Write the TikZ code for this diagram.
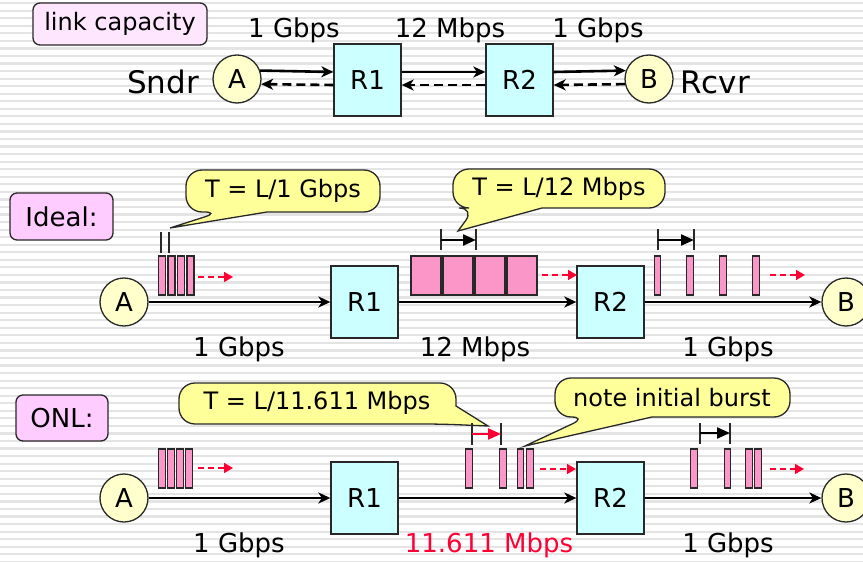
\documentclass[tikz,border=0pt]{standalone}
\usepackage{fontspec}
\setmainfont{DejaVu Sans}
\usetikzlibrary{arrows.meta,calc}
\definecolor{pk}{RGB}{250,150,200}
\definecolor{cy}{RGB}{204,255,255}
\definecolor{yl}{RGB}{255,255,204}
\definecolor{cl}{RGB}{255,255,153}
\definecolor{lab}{RGB}{255,204,255}
\definecolor{labtwo}{RGB}{255,230,255}
\definecolor{rd}{RGB}{255,0,51}
\definecolor{bd}{RGB}{40,40,40}
\definecolor{stripe}{RGB}{228,228,228}
\begin{document}
\begin{tikzpicture}[x=1pt,y=-1pt,
 every node/.style={font=\fontsize{26}{30}\selectfont, inner sep=0pt},
 circ/.style={circle, draw=bd, line width=1.3pt, fill=yl, minimum size=48pt},
 rbox/.style={rectangle, draw=bd, line width=1.3pt, fill=cy, minimum width=67pt, minimum height=72pt},
 labbox/.style={rectangle, rounded corners=7pt, draw=bd, line width=1.3pt, fill=lab},
 pkt/.style={rectangle, draw=bd, line width=1.1pt, fill=pk, minimum height=39pt},
 link/.style={line width=2.6pt, -{Stealth[length=12pt,width=11pt,inset=3.5pt]}},
 back/.style={link, dash pattern=on 9pt off 5pt},
 flow/.style={draw=rd, line width=1.5pt, dash pattern=on 6pt off 4pt, -{Triangle[length=9pt,width=10pt]}},
 meas/.style={line width=2.2pt, -{Triangle[length=13pt,width=11pt]}},
 tickline/.style={line width=1.1pt, draw=bd},
 callout/.style={draw=bd, line width=1.3pt, fill=cl},
 cfont/.style={font=\fontsize{24}{28}\selectfont},
]
\path[use as bounding box] (0,0) rectangle (863,562);
\clip (0,0) rectangle (863,562);
\fill[white] (0,0) rectangle (863,562);
\foreach \k in {0,...,74} {\fill[stripe] (0,{2+7.55*\k}) rectangle (863,{4.2+7.55*\k});}

% ---------- top: link capacity ----------
\node[labbox, fill=labtwo, minimum width=174pt, minimum height=42pt, cfont] (lc) at (120,24) {link capacity};
\node (g1) at (294,30) {1 Gbps};
\node (m12) at (450,30) {12 Mbps};
\node (g2) at (598,30) {1 Gbps};
\node[circ] (A0) at (237,79) {A};
\node[rbox] (R10) at (367.5,80) {R1};
\node[rbox] (R20) at (519.5,80) {R2};
\node[circ] (B0) at (649,79) {B};
\node[anchor=east, font=\fontsize{31}{36}\selectfont] (sndr) at (199,82) {Sndr};
\node[anchor=west, font=\fontsize{31}{36}\selectfont] (rcvr) at (680,82) {Rcvr};
\draw[link] (A0.20) -- ([yshift=8pt]R10.west);
\draw[back] ([yshift=-5pt]R10.west) -- (A0.-12);
\draw[link] ([yshift=8pt]R10.east) -- ([yshift=8pt]R20.west);
\draw[back] ([yshift=-5pt]R20.west) -- ([yshift=-5pt]R10.east);
\draw[link] ([yshift=8pt]R20.east) -- (B0.160);
\draw[back] (B0.192) -- ([yshift=-5pt]R20.east);

% ---------- Ideal ----------
\node[labbox, minimum width=103pt, minimum height=47pt] (ideal) at (61.5,216.5) {Ideal:};
\draw[callout] (267,212) [rounded corners=16pt] -- (380,212) -- (380,170) -- (186,170) -- (186,212) -- (220,212) [sharp corners] -- (170,228) -- cycle;
\node[cfont] (c1) at (283,191) {T = L/1 Gbps};
\draw[callout] (542,208) [rounded corners=16pt] -- (665,208) -- (665,169) -- (453,169) -- (453,208) -- (475,208) [sharp corners] -- (458,231) -- cycle;
\node[cfont] (c2) at (559,189) {T = L/12 Mbps};

\node[circ] (A1) at (124,302) {A};
\node[rbox] (R11) at (364.5,302) {R1};
\node[rbox] (R21) at (610.5,302) {R2};
\node[circ] (B1) at (846,302) {B};
\draw[link] (A1.east) -- (R11.west);
\draw[link] (R11.east) -- (R21.west);
\draw[link] (R21.east) -- (B1.west);
\node (l11) at (239,349) {1 Gbps};
\node (l12) at (475,349) {12 Mbps};
\node (l13) at (728,349) {1 Gbps};

\foreach \x [count=\i] in {162,171.5,181,190.5} \node[pkt, minimum width=7pt] (pa\i) at (\x,275.5) {};
\foreach \x [count=\i] in {426,458,490,522} \node[pkt, minimum width=30pt] (pb\i) at (\x,275.5) {};
\foreach \x [count=\i] in {657.5,690,723,756} \node[pkt, minimum width=6.5pt] (pc\i) at (\x,275.5) {};
\draw[tickline] (161,232) -- (161,253);
\draw[tickline] (169,232) -- (169,253);
\draw[tickline] (441,229) -- (441,250);
\draw[tickline] (476,229) -- (476,250);
\draw[meas] (441,240) -- (476,240);
\draw[tickline] (658,229) -- (658,250);
\draw[tickline] (694,229) -- (694,250);
\draw[meas] (658,240) -- (694,240);
\draw[flow] (198,277) -- (233,277);
\draw[flow] (542,275) -- (577,275);
\draw[flow] (770,275) -- (805,275);

% ---------- ONL ----------
\node[labbox, minimum width=92pt, minimum height=46pt] (onl) at (62,418) {ONL:};
\draw[callout] (456,406) [rounded corners=16pt] -- (456,383) -- (179,383) -- (179,424) -- (440,424) [sharp corners] -- (488,426) -- cycle;
\node[cfont] (c3) at (317,403) {T = L/11.611 Mbps};
\draw[callout] (652,417) [rounded corners=16pt] -- (790,417) -- (790,378) -- (555,378) -- (555,417) -- (587,417) [sharp corners] -- (525,446) -- cycle;
\node[cfont] (c4) at (672,398) {note initial burst};

\node[circ] (A2) at (124,498) {A};
\node[rbox] (R12) at (364.5,498) {R1};
\node[rbox] (R22) at (610.5,498) {R2};
\node[circ] (B2) at (846,498) {B};
\draw[link] (A2.east) -- (R12.west);
\draw[link] (R12.east) -- (R22.west);
\draw[link] (R22.east) -- (B2.west);
\node (l21) at (239,545) {1 Gbps};
\node[text=rd] (l22) at (489,545) {11.611 Mbps};
\node (l23) at (728,545) {1 Gbps};

\foreach \x [count=\i] in {162,171,180,189} \node[pkt, minimum width=6.5pt] (qa\i) at (\x,468.5) {};
\foreach \x [count=\i] in {469,503,520.5,530} \node[pkt, minimum width=6.5pt] (qb\i) at (\x,468.5) {};
\foreach \x [count=\i] in {694,727.5,749,758} \node[pkt, minimum width=6.5pt] (qc\i) at (\x,468.5) {};
\draw[tickline] (472,423) -- (472,445);
\draw[tickline] (501,423) -- (501,445);
\draw[meas, draw=rd, fill=rd] (472,434) -- (501,434);
\draw[tickline] (700,423) -- (700,444);
\draw[tickline] (730,423) -- (730,444);
\draw[meas] (700,433) -- (730,433);
\draw[flow] (198,468) -- (233,468);
\draw[flow] (540,469) -- (576,469);
\draw[flow] (770,469) -- (804,469);
\end{tikzpicture}
\end{document}
